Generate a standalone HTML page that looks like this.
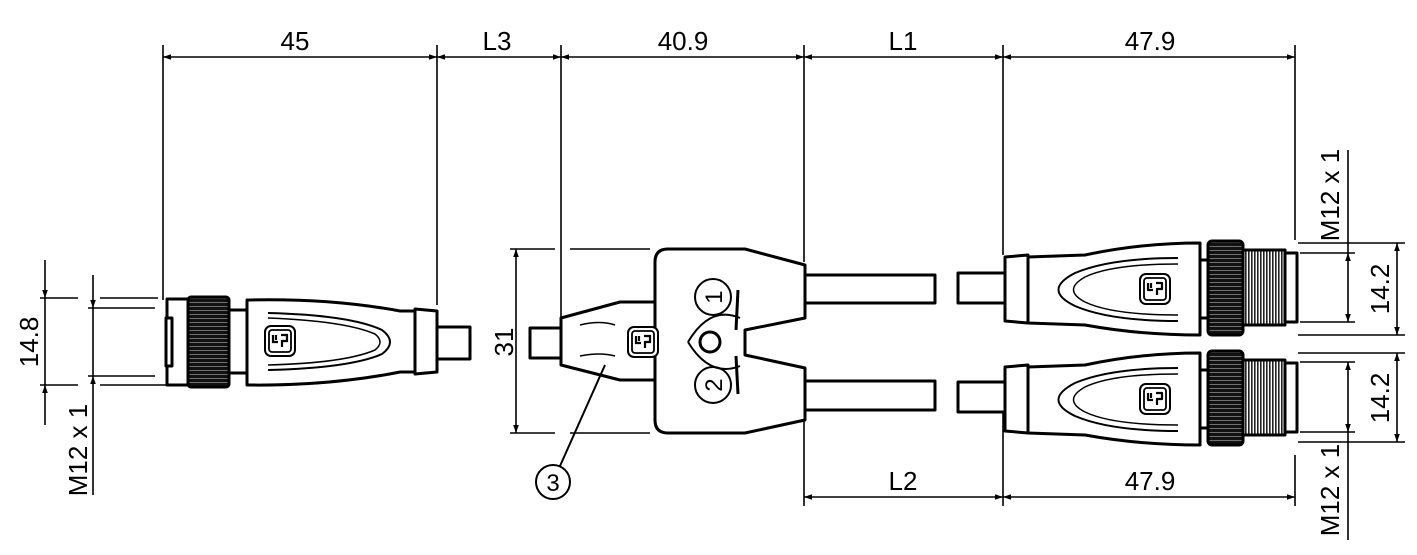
<!DOCTYPE html>
<html><head><meta charset="utf-8"><style>html,body{margin:0;padding:0;background:#fff}svg{display:block}text{font-family:"Liberation Sans",sans-serif;fill:#000}</style></head><body>
<svg width="1417" height="555" viewBox="0 0 1417 555" xmlns="http://www.w3.org/2000/svg">
<defs>
<marker id="a" viewBox="0 0 10 10" refX="10" refY="5" markerWidth="16" markerHeight="8" markerUnits="userSpaceOnUse" orient="auto-start-reverse"><path d="M0,1.5 L10,5 L0,8.5 z" fill="#000"/></marker>
<pattern id="knurl" width="4" height="4" patternUnits="userSpaceOnUse"><rect width="4" height="4" fill="#111"/><rect y="2" width="4" height="0.8" fill="#888"/></pattern>
<pattern id="thr" width="3" height="4" patternUnits="userSpaceOnUse"><rect width="3" height="4" fill="#fff"/><rect width="1.6" height="4" fill="#222"/></pattern>
<g id="logo"><rect x="-15" y="-15" width="30" height="30" rx="6" fill="#fff" stroke="#000" stroke-width="2"/><rect x="-11" y="-11" width="22" height="22" rx="3" fill="none" stroke="#000" stroke-width="1.8"/><path d="M-7,-6 v7 h5 M-4,-6 v5 M1,-6 h6 v6 h-5 v6" fill="none" stroke="#000" stroke-width="2.2"/></g>
</defs>
<g stroke="#000" stroke-width="1.6" fill="none">
<line x1="163" y1="45" x2="163" y2="300"/><line x1="437" y1="45" x2="437" y2="305"/>
<line x1="561" y1="45" x2="561" y2="318"/><line x1="804" y1="45" x2="804" y2="262"/>
<line x1="1003" y1="45" x2="1003" y2="255"/><line x1="1295" y1="45" x2="1295" y2="240"/>
<line x1="163" y1="57" x2="437" y2="57" marker-start="url(#a)" marker-end="url(#a)"/>
<line x1="437" y1="57" x2="561" y2="57" marker-start="url(#a)" marker-end="url(#a)"/>
<line x1="561" y1="57" x2="804" y2="57" marker-start="url(#a)" marker-end="url(#a)"/>
<line x1="804" y1="57" x2="1003" y2="57" marker-start="url(#a)" marker-end="url(#a)"/>
<line x1="1003" y1="57" x2="1295" y2="57" marker-start="url(#a)" marker-end="url(#a)"/>
<line x1="804" y1="420" x2="804" y2="506"/><line x1="1003" y1="410" x2="1003" y2="506"/><line x1="1295" y1="455" x2="1295" y2="506"/>
<line x1="804" y1="497" x2="1003" y2="497" marker-start="url(#a)" marker-end="url(#a)"/>
<line x1="1003" y1="497" x2="1295" y2="497" marker-start="url(#a)" marker-end="url(#a)"/>
<line x1="40" y1="298" x2="78" y2="298"/><line x1="100" y1="298" x2="158" y2="298"/>
<line x1="40" y1="385" x2="78" y2="385"/><line x1="100" y1="385" x2="170" y2="385"/>
<line x1="88" y1="308" x2="155" y2="308"/><line x1="88" y1="376" x2="155" y2="376"/>
<line x1="45" y1="260" x2="45" y2="298" marker-end="url(#a)"/><line x1="45" y1="298" x2="45" y2="385"/><line x1="45" y1="425" x2="45" y2="385" marker-end="url(#a)"/>
<line x1="93" y1="275" x2="93" y2="308" marker-end="url(#a)"/><line x1="93" y1="308" x2="93" y2="376"/><line x1="93" y1="495" x2="93" y2="376" marker-end="url(#a)"/>
<line x1="510" y1="249" x2="555" y2="249"/><line x1="570" y1="249" x2="650" y2="249"/>
<line x1="510" y1="433" x2="555" y2="433"/><line x1="570" y1="433" x2="650" y2="433"/>
<line x1="516" y1="249" x2="516" y2="433" marker-start="url(#a)" marker-end="url(#a)"/>
<line x1="1298" y1="243" x2="1405" y2="243"/><line x1="1298" y1="335" x2="1405" y2="335"/>
<line x1="1300" y1="253" x2="1355" y2="253"/><line x1="1300" y1="322" x2="1355" y2="322"/>
<line x1="1298" y1="353" x2="1405" y2="353"/><line x1="1298" y1="442" x2="1405" y2="442"/>
<line x1="1300" y1="362" x2="1355" y2="362"/><line x1="1300" y1="432" x2="1355" y2="432"/>
<line x1="1348" y1="253" x2="1348" y2="322" marker-start="url(#a)" marker-end="url(#a)"/>
<line x1="1397" y1="243" x2="1397" y2="335" marker-start="url(#a)" marker-end="url(#a)"/>
<line x1="1348" y1="362" x2="1348" y2="432" marker-start="url(#a)" marker-end="url(#a)"/>
<line x1="1397" y1="353" x2="1397" y2="442" marker-start="url(#a)" marker-end="url(#a)"/>
<line x1="1348" y1="432" x2="1348" y2="540"/><line x1="1348" y1="150" x2="1348" y2="253"/>
</g>
<g stroke="#000" stroke-width="3" fill="#fff" stroke-linejoin="round">
<rect x="437" y="327" width="33" height="32"/>
<path d="M415,309 L437,311 L437,372 L415,374 Z"/>
<path d="M247,300 Q330,298 400,311 L415,311 L415,372 L400,372 Q330,386 247,385 Z"/>
<path d="M268,313 Q350,315 382,330 Q398,342 382,354 Q350,368 268,370" fill="none" stroke-width="2"/>
<path d="M268,318 Q345,321 375,334 Q385,342 375,350 Q345,363 268,365" fill="none" stroke-width="1.5"/>
<rect x="229" y="310" width="18" height="63"/>
<rect x="167" y="299" width="22" height="86"/>
<rect x="166" y="318" width="6" height="48"/>
<rect x="188" y="297" width="41" height="90" rx="3" fill="url(#knurl)"/>
<rect x="530" y="328" width="31" height="30"/>
<path d="M561,318 L620,302 L655,302 L655,380 L620,380 L561,365 Z"/>
<path d="M655,262 Q655,249 668,249 L745,249 L805,265 L805,318 L745,330 L745,355 L805,368 L805,420 L745,433 L668,433 Q655,433 655,420 Z"/>
<rect x="805" y="275" width="130" height="28"/>
<rect x="805" y="381" width="130" height="29"/>
<rect x="958" y="273" width="47" height="30"/>
<rect x="958" y="382" width="47" height="30"/>
<g id="rc">
<path d="M1005,257 L1028,255 L1028,323 L1005,321 Z"/>
<path d="M1028,257 L1085,255 Q1140,243 1200,243 L1200,335 Q1140,335 1085,325 L1028,323 Z"/>
<path d="M1178,258 Q1110,258 1075,273 Q1042,290 1075,306 Q1110,321 1178,321" fill="none" stroke-width="2"/>
<path d="M1178,264 Q1112,264 1085,277 Q1062,290 1085,302 Q1112,315 1178,315" fill="none" stroke-width="1.5"/>
<rect x="1200" y="260" width="10" height="58"/>
<rect x="1285" y="253" width="12" height="69"/>
<rect x="1243" y="250" width="42" height="75" fill="url(#thr)"/>
<rect x="1208" y="241" width="35" height="94" rx="4" fill="url(#knurl)"/>
<use href="#logo" x="1155" y="289"/>
</g>
<use href="#rc" y="110"/>
</g>
<g stroke="#000" stroke-width="2" fill="none">
<use href="#logo" x="280" y="341"/>
<use href="#logo" x="643" y="342"/>
<circle cx="713" cy="297" r="18"/><circle cx="713" cy="385" r="18"/>
<circle cx="710" cy="342" r="10" stroke-width="3"/>
<path d="M688,342 Q710,305 740,318 M688,342 Q710,378 740,366"/>
<path d="M738,290 L736,330 M738,394 L736,356" stroke-width="3"/>
<path d="M580,325 Q600,320 615,325 M580,356 Q600,352 615,356" stroke-width="1.5"/>
<line x1="605" y1="365" x2="560" y2="466"/>
<circle cx="553" cy="482" r="17"/>
</g>
<g font-size="26">
<text x="295" y="50" text-anchor="middle">45</text>
<text x="497" y="50" text-anchor="middle">L3</text>
<text x="683" y="50" text-anchor="middle">40.9</text>
<text x="903" y="50" text-anchor="middle">L1</text>
<text x="1150" y="50" text-anchor="middle">47.9</text>
<text x="903" y="490" text-anchor="middle">L2</text>
<text x="1150" y="490" text-anchor="middle">47.9</text>
<text transform="translate(38,342) rotate(-90)" text-anchor="middle">14.8</text>
<text transform="translate(87,450) rotate(-90)" text-anchor="middle">M12 x 1</text>
<text transform="translate(513,342) rotate(-90)" text-anchor="middle">31</text>
<text transform="translate(1339,195) rotate(-90)" text-anchor="middle">M12 x 1</text>
<text transform="translate(1339,490) rotate(-90)" text-anchor="middle">M12 x 1</text>
<text transform="translate(1389,289) rotate(-90)" text-anchor="middle">14.2</text>
<text transform="translate(1389,398) rotate(-90)" text-anchor="middle">14.2</text>
<text x="713" y="306" text-anchor="middle" font-size="24" transform="rotate(-90 713 297)">1</text>
<text x="713" y="394" text-anchor="middle" font-size="24" transform="rotate(-90 713 385)">2</text>
<text x="553" y="491" text-anchor="middle" font-size="24">3</text>
</g>
</svg>
</body></html>
